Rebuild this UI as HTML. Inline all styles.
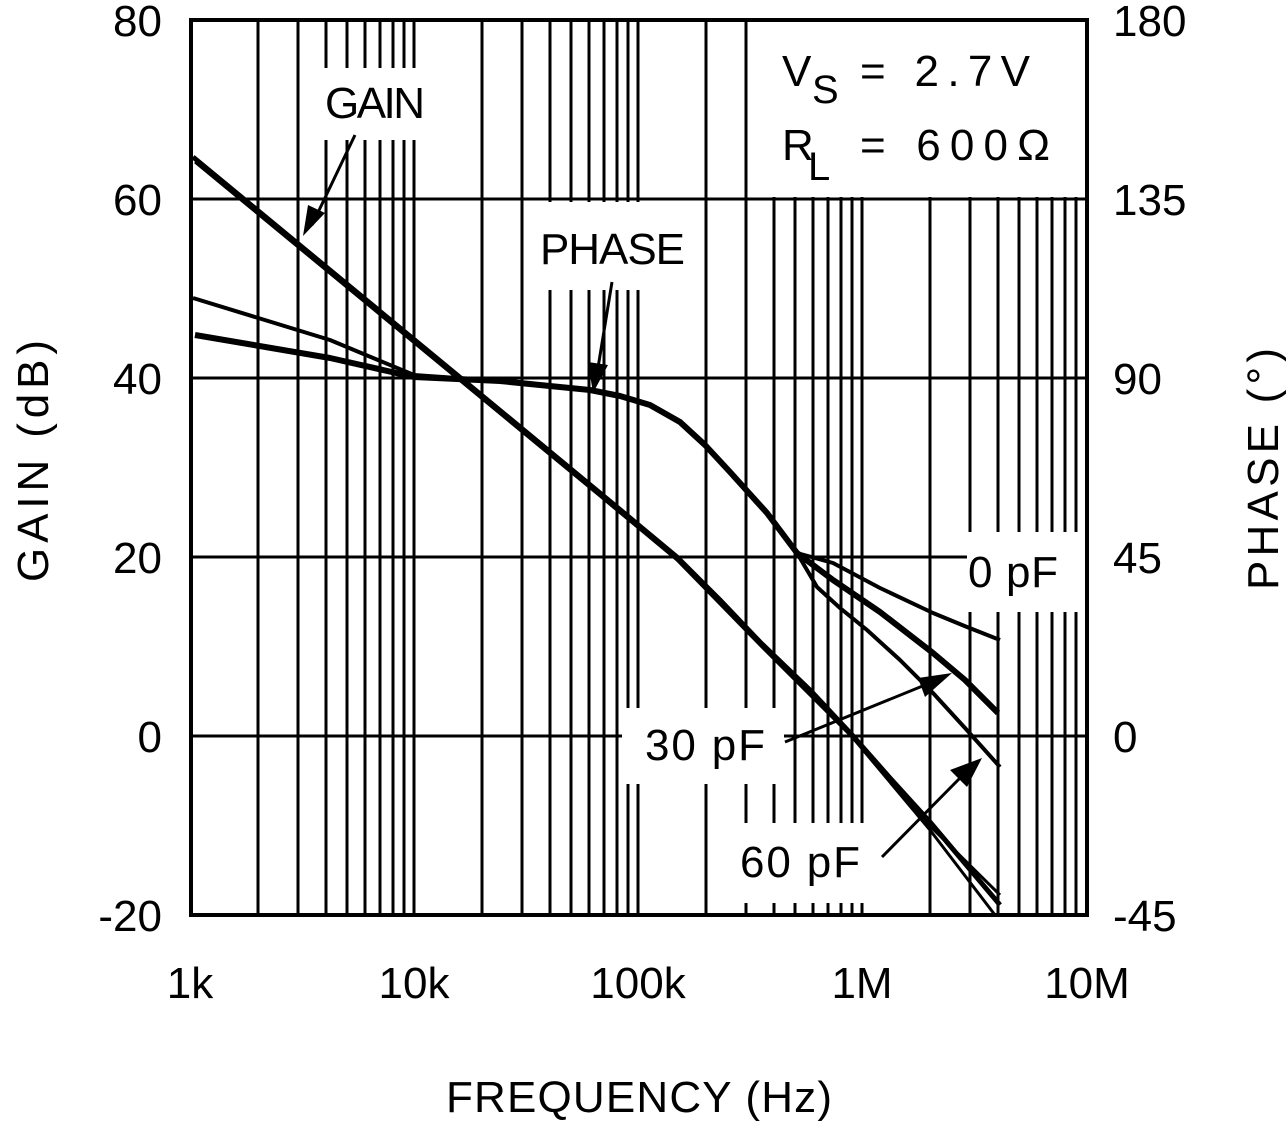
<!DOCTYPE html>
<html><head><meta charset="utf-8"><style>
html,body{margin:0;padding:0;background:#fff}
svg{display:block}
text{font-family:"Liberation Sans","DejaVu Sans",sans-serif;fill:#000}
</style></head><body>
<svg width="1286" height="1121" viewBox="0 0 1286 1121" xmlns="http://www.w3.org/2000/svg">
<g stroke="#000" stroke-width="3" fill="none">
<path d="M258 20V915M298 20V915M326 20V915M347 20V915M365 20V915M380 20V915M393 20V915M404 20V915M414 20V915
M482 20V915M522 20V915M550 20V915M571 20V915M589 20V915M604 20V915M617 20V915M628 20V915M638 20V915
M706 20V915M746 20V915M774 20V915M795 20V915M813 20V915M828 20V915M841 20V915M852 20V915M862 20V915
M930 20V915M970 20V915M998 20V915M1019 20V915M1037 20V915M1052 20V915M1065 20V915M1076 20V915"/>
<path d="M191 199H1087M191 378H1087M191 557H1087M191 736H1087"/>
</g>
<g fill="#fff">
<rect x="305" y="68" width="125" height="72"/>
<rect x="535" y="202" width="155" height="88"/>
<rect x="756" y="22" width="329" height="175"/>
<rect x="967" y="532" width="118" height="80"/>
<rect x="622" y="708" width="162" height="76"/>
<rect x="735" y="823" width="148" height="80"/>
</g>
<rect x="191" y="20" width="896" height="895" fill="none" stroke="#000" stroke-width="4"/>
<g stroke="#000" fill="none" stroke-linejoin="round" stroke-linecap="butt">
<!-- gain -->
<path d="M193 157 L600 493 L677 557 L720 600 L760 642 L810 690 L853 736 L890 778 L930 822 L1000 905" stroke-width="5"/>
<path d="M195 162 L600 496 L677 560 L720 604 L760 645 L853 738 L930 826 L1000 895" stroke-width="3"/>
<path d="M853 738 L930 830 L995 915" stroke-width="3"/>
<!-- phase -->
<path d="M193 298 L330 340 L414 375 L500 381 L590 390 L620 396 L650 405 L680 422 L705 445 L730 472 L767 513 L797 553 L833 563 L880 588 L933 613 L967 627 L1000 640" stroke-width="4"/>
<path d="M195 335 L330 358 L414 377 L500 381 L590 390 L620 396 L650 405 L680 422 L705 445 L730 472 L767 513 L797 553 L833 580 L880 612 L933 653 L965 680 L998 713" stroke-width="6"/>
<path d="M797 553 L807 570 L817 587 L840 608 L867 630 L900 660 L933 693 L965 728 L1000 767" stroke-width="4"/>
<!-- arrows -->
<path d="M355 135 L312 225" stroke-width="3"/>
<path d="M612 282 L596 380" stroke-width="3"/>
<path d="M785 742 L930 683" stroke-width="3"/>
<path d="M882 857 L960 778" stroke-width="3"/>
</g>
<g fill="#000">
<polygon points="303,236 308,205 325,213"/>
<polygon points="593,393 588,362 608,365"/>
<polygon points="952,673 918,678 925,697"/>
<polygon points="982,758 950,770 967,787"/>
</g>
<g font-size="44">
<text x="162" y="36" text-anchor="end">80</text>
<text x="162" y="215" text-anchor="end">60</text>
<text x="162" y="394" text-anchor="end">40</text>
<text x="162" y="573" text-anchor="end">20</text>
<text x="162" y="752" text-anchor="end">0</text>
<text x="162" y="931" text-anchor="end">-20</text>
<text x="1113" y="36">180</text>
<text x="1113" y="215">135</text>
<text x="1113" y="394">90</text>
<text x="1113" y="573">45</text>
<text x="1113" y="752">0</text>
<text x="1113" y="931">-45</text>
<text x="190" y="998" text-anchor="middle">1k</text>
<text x="414" y="998" text-anchor="middle">10k</text>
<text x="638" y="998" text-anchor="middle">100k</text>
<text x="862" y="998" text-anchor="middle">1M</text>
<text x="1087" y="998" text-anchor="middle">10M</text>
<text x="446" y="1112" textLength="386">FREQUENCY (Hz)</text>
<text transform="translate(48,582) rotate(-90)" textLength="242">GAIN (dB)</text>
<text transform="translate(1278,590) rotate(-90)" textLength="242">PHASE (°)</text>
<text x="325" y="118" textLength="100">GAIN</text>
<text x="540" y="264" textLength="145">PHASE</text>
<text x="968" y="587" textLength="90">0 pF</text>
<text x="645" y="760" textLength="120">30 pF</text>
<text x="740" y="877" textLength="120">60 pF</text>
<text x="782" y="86">V</text>
<text x="812" y="103" font-size="40">S</text>
<text x="860" y="86" textLength="170">=  2.7V</text>
<text x="782" y="160">R</text>
<text x="808" y="180" font-size="40">L</text>
<text x="860" y="160" textLength="190">=  600Ω</text>
</g>
</svg>
</body></html>
